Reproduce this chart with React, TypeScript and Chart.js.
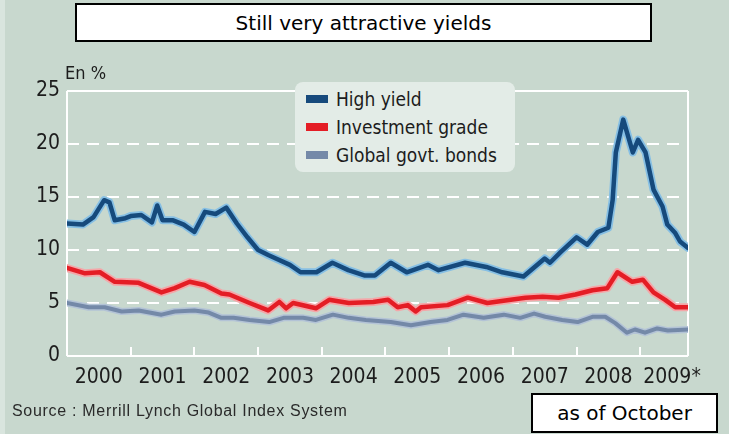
import React, { useEffect, useRef } from "react";
import { Chart, registerables } from "chart.js";

Chart.register(...registerables);

// x values are months since January 2000
const yearLabels = ["2000", "2001", "2002", "2003", "2004", "2005", "2006", "2007", "2008", "2009*"];
const yTickValues = [0, 5, 10, 15, 20, 25];

const highYieldMonths = [0, 3, 5, 7, 8, 9, 11, 12, 14, 16, 17, 18, 20, 22, 24, 26, 28, 30, 32, 34, 36, 38, 42, 44, 47, 50, 53, 56, 58, 61, 64, 68, 70, 75, 79, 82, 86, 90, 91, 93, 96, 98, 100, 102, 102.8, 103.4, 104.8, 106.6, 107.6, 109, 110.5, 112.2, 113.1, 114.6, 115.5, 117];
const highYieldValues = [12.5, 12.4, 13.1, 14.7, 14.5, 12.8, 13.0, 13.2, 13.3, 12.6, 14.2, 12.8, 12.8, 12.4, 11.7, 13.6, 13.4, 14.0, 12.5, 11.2, 10.0, 9.5, 8.6, 7.9, 7.9, 8.8, 8.1, 7.6, 7.6, 8.8, 7.9, 8.6, 8.1, 8.8, 8.4, 7.9, 7.5, 9.2, 8.8, 9.8, 11.2, 10.5, 11.7, 12.1, 14.7, 19.2, 22.3, 19.2, 20.4, 19.2, 15.7, 14.1, 12.4, 11.6, 10.8, 10.2];

const investmentMonths = [0, 3.4, 6.2, 9, 13.5, 17.8, 20.3, 23.1, 25.9, 29.1, 30.6, 34.4, 37.9, 40, 41.3, 42.6, 46.9, 49.4, 53.1, 57.7, 60.5, 62.3, 64.2, 65.7, 66.7, 71.7, 75.5, 79.2, 83.6, 86.4, 89.6, 92.6, 95.8, 99, 101.8, 103.7, 106.5, 108.5, 110.5, 112.7, 114.6, 117];
const investmentValues = [8.3, 7.8, 7.9, 7.0, 6.9, 6.0, 6.4, 7.0, 6.7, 5.9, 5.8, 5.0, 4.3, 5.1, 4.5, 5.0, 4.5, 5.3, 5.0, 5.1, 5.3, 4.6, 4.8, 4.2, 4.6, 4.8, 5.5, 5.0, 5.3, 5.5, 5.6, 5.5, 5.8, 6.2, 6.4, 7.9, 7.0, 7.2, 6.0, 5.3, 4.6, 4.6];

const govtMonths = [0, 4.1, 7.1, 10.3, 13.5, 17.8, 20.3, 24, 26.7, 29.1, 31.4, 34.4, 38.1, 40.8, 44.5, 46.9, 50.1, 53.1, 56.3, 61, 64.8, 68.5, 71.7, 74.7, 78.5, 82.3, 85.4, 88, 90.1, 93.3, 96.2, 99, 101.4, 103.3, 105.5, 107, 108.9, 111.2, 113.2, 117];
const govtValues = [5.0, 4.6, 4.6, 4.2, 4.3, 3.9, 4.2, 4.3, 4.1, 3.6, 3.6, 3.4, 3.2, 3.6, 3.6, 3.4, 3.9, 3.6, 3.4, 3.2, 2.9, 3.2, 3.4, 3.9, 3.6, 3.9, 3.6, 4.0, 3.7, 3.4, 3.2, 3.7, 3.7, 3.1, 2.2, 2.5, 2.2, 2.6, 2.4, 2.5];

const seriesNames = ["High yield", "Investment grade", "Global govt. bonds"];
const seriesColors = ["#164a7c", "#e41d25", "#7489a8"];
const haloColors = ["#86bfe4", "#f4a6a8", "#b3c3d6"];
const coreWidths = [4.5, 4.5, 4];
const haloWidths = [8, 8, 7];

const tickFont = '"DejaVu Sans Condensed", "Liberation Sans Narrow", sans-serif';

const toPoints = (xs: number[], ys: number[]) => xs.map((x, i) => ({ x, y: ys[i] }));

const gridPlugin = {
  id: "customGrid",
  beforeDatasetsDraw(chart: any) {
    const { ctx, chartArea, scales } = chart;
    const x = scales.x;
    const y = scales.y;
    ctx.save();
    ctx.strokeStyle = "#ffffff";
    ctx.lineWidth = 2;
    yTickValues.forEach((v) => {
      const py = Math.round(y.getPixelForValue(v));
      ctx.setLineDash(v === 0 || v === 25 ? [] : [12, 8]);
      ctx.beginPath();
      ctx.moveTo(chartArea.left, py);
      ctx.lineTo(chartArea.right, py);
      ctx.stroke();
    });
    ctx.setLineDash([]);
    ctx.beginPath();
    ctx.moveTo(chartArea.left, chartArea.top);
    ctx.lineTo(chartArea.left, chartArea.bottom);
    ctx.moveTo(chartArea.right, chartArea.top);
    ctx.lineTo(chartArea.right, chartArea.bottom);
    for (let i = 1; i < yearLabels.length; i++) {
      const px = Math.round(x.getPixelForValue(i * 12));
      ctx.moveTo(px, chartArea.bottom);
      ctx.lineTo(px, chartArea.bottom - 9);
    }
    ctx.stroke();
    ctx.restore();
  },
};

export default function App() {
  const canvasRef = useRef<HTMLCanvasElement | null>(null);

  useEffect(() => {
    if (!canvasRef.current) return;
    const sets = [
      { xs: highYieldMonths, ys: highYieldValues },
      { xs: investmentMonths, ys: investmentValues },
      { xs: govtMonths, ys: govtValues },
    ];
    const datasets: any[] = [];
    sets.forEach((s, i) => {
      datasets.push({
        label: seriesNames[i],
        data: toPoints(s.xs, s.ys),
        borderColor: seriesColors[i],
        borderWidth: coreWidths[i],
        pointRadius: 0,
        tension: 0,
        borderJoinStyle: "round",
        borderCapStyle: "round",
        order: i,
      });
      datasets.push({
        label: seriesNames[i] + " halo",
        data: toPoints(s.xs, s.ys),
        borderColor: haloColors[i],
        borderWidth: haloWidths[i],
        pointRadius: 0,
        tension: 0,
        borderJoinStyle: "round",
        borderCapStyle: "round",
        order: 10 + i,
      });
    });

    const chart = new Chart(canvasRef.current, {
      type: "line",
      data: { datasets },
      plugins: [gridPlugin],
      options: {
        animation: false,
        responsive: false,
        devicePixelRatio: 1,
        layout: { padding: { left: 0, right: 41, top: 91, bottom: 38 } },
        plugins: { legend: { display: false }, tooltip: { enabled: false } },
        scales: {
          x: {
            type: "linear",
            min: 0,
            max: 117,
            afterBuildTicks: (scale: any) => {
              scale.ticks = yearLabels.map((_, i) => ({ value: i * 12 + 6 }));
            },
            afterFit: (scale: any) => {
              scale.height = 40;
            },
            ticks: {
              autoSkip: false,
              maxRotation: 0,
              padding: 9,
              color: "#1c1c1c",
              font: { family: tickFont, size: 21 },
              callback: (_v: any, i: number) => yearLabels[i],
            },
            grid: { display: false, drawTicks: false },
            border: { display: false },
          },
          y: {
            min: 0,
            max: 25,
            afterBuildTicks: (scale: any) => {
              scale.ticks = yTickValues.map((v) => ({ value: v }));
            },
            afterFit: (scale: any) => {
              scale.width = 67;
            },
            ticks: {
              padding: 7,
              color: "#1c1c1c",
              font: { family: tickFont, size: 21 },
            },
            grid: { display: false, drawTicks: false },
            border: { display: false },
          },
        },
      },
    });
    return () => chart.destroy();
  }, []);

  return (
    <div
      style={{
        position: "fixed",
        left: 0,
        top: 0,
        width: 729,
        height: 434,
        background: "#c8d8ce",
        overflow: "hidden",
      }}
    >
      <div style={{ position: "absolute", left: 0, top: 0, width: 5, height: 434, background: "#d9e5de" }} />
      <canvas
        ref={canvasRef}
        width={729}
        height={434}
        style={{ position: "absolute", left: 0, top: 0, display: "block", width: 729, height: 434 }}
      />
      <div
        style={{
          position: "absolute",
          left: 75,
          top: 3,
          width: 573,
          height: 35,
          border: "2px solid #000",
          background: "#fff",
          display: "flex",
          alignItems: "center",
          justifyContent: "center",
          fontFamily: '"DejaVu Sans", Verdana, sans-serif',
          fontSize: 20,
          color: "#000",
        }}
      >
        Still very attractive yields
      </div>
      <div
        style={{
          position: "absolute",
          left: 65,
          top: 63,
          fontFamily: tickFont,
          fontSize: 18,
          color: "#1c1c1c",
          lineHeight: "20px",
        }}
      >
        En %
      </div>
      <div
        style={{
          position: "absolute",
          left: 295,
          top: 82,
          width: 220,
          height: 90,
          background: "#e3ece7",
          borderRadius: 8,
        }}
      >
        {seriesNames.map((name, i) => (
          <div
            key={name}
            style={{
              position: "absolute",
              left: 11,
              top: 4 + i * 28,
              height: 26,
              display: "flex",
              alignItems: "center",
              fontFamily: tickFont,
              fontSize: 19,
              color: "#1c1c1c",
              whiteSpace: "nowrap",
            }}
          >
            <span
              style={{
                display: "inline-block",
                width: 22,
                height: 8,
                background: seriesColors[i],
                marginRight: 8,
              }}
            />
            {name}
          </div>
        ))}
      </div>
      <div
        style={{
          position: "absolute",
          left: 12,
          top: 402,
          fontFamily: '"Liberation Sans", Arial, sans-serif',
          fontSize: 16,
          letterSpacing: 0.7,
          color: "#2a2a2a",
          whiteSpace: "nowrap",
        }}
      >
        Source : Merrill Lynch Global Index System
      </div>
      <div
        style={{
          position: "absolute",
          left: 531,
          top: 393,
          width: 183,
          height: 36,
          border: "2px solid #000",
          background: "#fff",
          display: "flex",
          alignItems: "center",
          justifyContent: "center",
          fontFamily: '"DejaVu Sans", Verdana, sans-serif',
          fontSize: 20,
          color: "#000",
        }}
      >
        as of October
      </div>
    </div>
  );
}
